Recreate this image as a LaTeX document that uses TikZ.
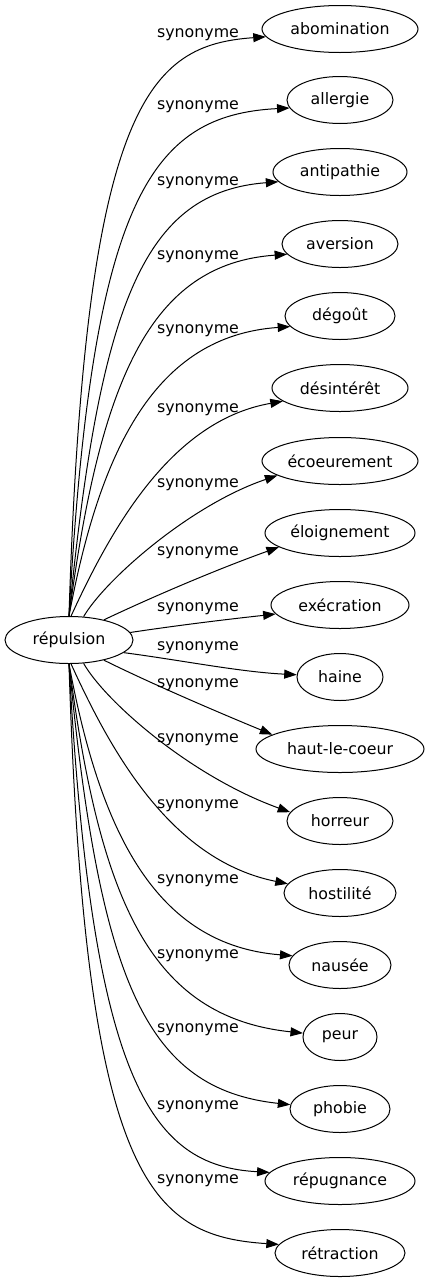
\documentclass[tikz,border=0pt]{standalone}
\usepackage{fontspec}
\setmainfont{DejaVu Sans}
\usetikzlibrary{arrows.meta,shapes.geometric}
\begin{document}
\begin{tikzpicture}[x=1pt,y=-1pt,
  every node/.style={font=\fontsize{15.8}{18}\selectfont},
  word/.style={draw, ellipse, line width=1pt, inner sep=0pt, minimum height=47pt},
  lbl/.style={inner sep=0pt},
  syn/.style={line width=1pt, -{Triangle[length=12.5pt,width=9pt]}}]
\useasboundingbox (0,0) rectangle (429,1283);
% nodes
\node[word, minimum width=128pt] (src) at (69,640) {répulsion};
\node[word, minimum width=156pt] (t0) at (340,29) {abomination};
\node[word, minimum width=106pt] (t1) at (340,100) {allergie};
\node[word, minimum width=134pt] (t2) at (340,172) {antipathie};
\node[word, minimum width=116pt] (t3) at (340,244) {aversion};
\node[word, minimum width=110pt] (t4) at (340,316) {dégoût};
\node[word, minimum width=136pt] (t5) at (340,388) {désintérêt};
\node[word, minimum width=156pt] (t6) at (340,461) {écoeurement};
\node[word, minimum width=150pt] (t7) at (340,533) {éloignement};
\node[word, minimum width=138pt] (t8) at (340,605) {exécration};
\node[word, minimum width=86pt] (t9) at (340,677) {haine};
\node[word, minimum width=168pt] (t10) at (340,749) {haut-le-coeur};
\node[word, minimum width=106pt] (t11) at (340,821) {horreur};
\node[word, minimum width=112pt] (t12) at (340,893) {hostilité};
\node[word, minimum width=102pt] (t13) at (340,965) {nausée};
\node[word, minimum width=74pt] (t14) at (340,1037) {peur};
\node[word, minimum width=100pt] (t15) at (340,1109) {phobie};
\node[word, minimum width=150pt] (t16) at (340,1181) {répugnance};
\node[word, minimum width=130pt] (t17) at (340,1253) {rétraction};
% labels
\node[lbl] (l0) at (198,35) {synonyme};
\node[lbl] (l1) at (198,107) {synonyme};
\node[lbl] (l2) at (198,183) {synonyme};
\node[lbl] (l3) at (198,257) {synonyme};
\node[lbl] (l4) at (198,331) {synonyme};
\node[lbl] (l5) at (198,410) {synonyme};
\node[lbl] (l6) at (198,485) {synonyme};
\node[lbl] (l7) at (198,553) {synonyme};
\node[lbl] (l8) at (198,609) {synonyme};
\node[lbl] (l9) at (198,648) {synonyme};
\node[lbl] (l10) at (198,685) {synonyme};
\node[lbl] (l11) at (198,740) {synonyme};
\node[lbl] (l12) at (198,806) {synonyme};
\node[lbl] (l13) at (198,881) {synonyme};
\node[lbl] (l14) at (198,956) {synonyme};
\node[lbl] (l15) at (198,1030) {synonyme};
\node[lbl] (l16) at (198,1107) {synonyme};
\node[lbl] (l17) at (198,1181) {synonyme};
% edges (upper)
\draw[syn] (src.north) .. controls (85,100) and (150,45) .. (t0.186);
\draw[syn] (src.north) .. controls (92,200) and (150,115) .. (t1.189);
\draw[syn] (src.north) .. controls (100,300) and (145,192) .. (t2.189);
\draw[syn] (src.north) .. controls (100,380) and (150,264) .. (t3.191);
\draw[syn] (src.north) .. controls (100,450) and (155,336) .. (t4.192);
\draw[syn] (src.85) .. controls (115,520) and (175,420) .. (t5.193);
\draw[syn] (src.58) .. controls (105,580) and (190,505) .. (t6.193);
\draw[syn] (src.30) .. controls (150,598) and (215,570) .. (t7.193);
\draw[syn] (src.7) .. controls (180,625) and (230,619) .. (t8.188);
% edges (lower)
\draw[syn] (src.347) .. controls (180,660) and (240,672) .. (t9.177);
\draw[syn] (src.330) .. controls (150,683) and (215,711) .. (t10.168);
\draw[syn] (src.302) .. controls (105,701) and (190,776) .. (t11.170);
\draw[syn] (src.275) .. controls (115,761) and (175,861) .. (t12.170);
\draw[syn] (src.south) .. controls (100,831) and (155,945) .. (t13.169);
\draw[syn] (src.south) .. controls (100,901) and (150,1017) .. (t14.174);
\draw[syn] (src.south) .. controls (100,981) and (145,1089) .. (t15.175);
\draw[syn] (src.south) .. controls (92,1081) and (150,1166) .. (t16.173);
\draw[syn] (src.south) .. controls (85,1181) and (150,1236) .. (t17.172);
\end{tikzpicture}
\end{document}
